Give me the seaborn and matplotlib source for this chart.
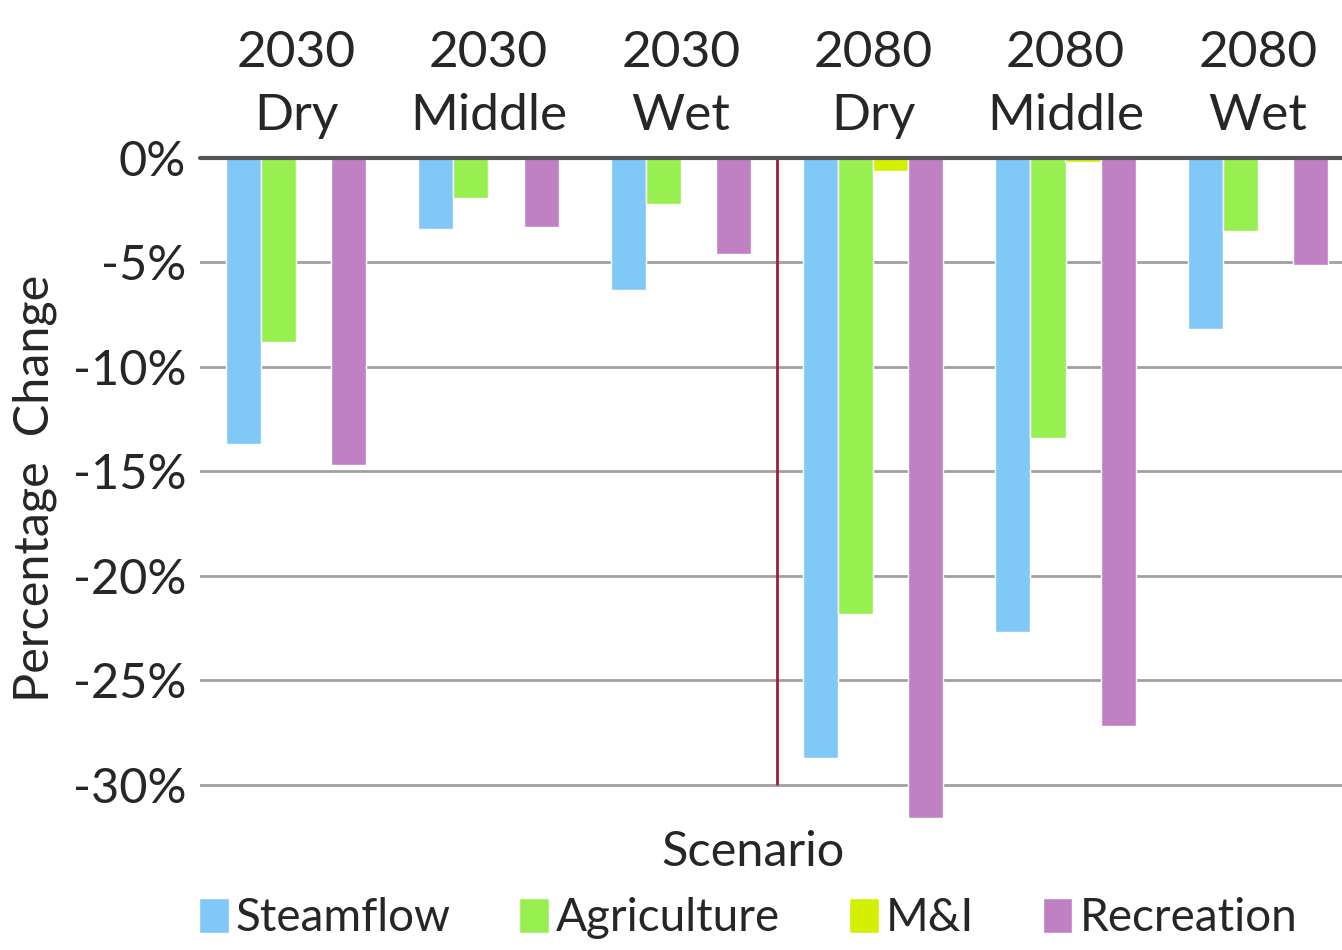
import pandas as pd
import matplotlib.pyplot as plt
import seaborn as sns

# values (percentage change)
scenarios = ['2030\nDry', '2030\nMiddle', '2030\nWet', '2080\nDry', '2080\nMiddle', '2080\nWet']
sectors = ['Steamflow', 'Agriculture', 'M&I', 'Recreation']
steamflow = [-13.7, -3.4, -6.3, -28.7, -22.7, -8.2]
agriculture = [-8.8, -1.9, -2.2, -21.8, -13.4, -3.5]
m_and_i = [0.0, 0.0, 0.0, -0.6, -0.2, 0.0]
recreation = [-14.7, -3.3, -4.6, -31.6, -27.2, -5.1]
yticks = [0, -5, -10, -15, -20, -25, -30]

colors = ['#80C8F8', '#98F050', '#D4F000', '#C080C4']

sns.set_theme(style='white')
plt.rcParams['font.family'] = ['Lato', 'DejaVu Sans']

df = pd.DataFrame({
    'Scenario': scenarios,
    'Steamflow': steamflow,
    'Agriculture': agriculture,
    'M&I': m_and_i,
    'Recreation': recreation,
}).melt(id_vars='Scenario', var_name='Sector', value_name='Change')

W, H = 1342, 950
fig = plt.figure(figsize=(W / 100, H / 100), dpi=100)
ax = fig.add_axes([200 / W, 1 - 822.6 / H, 1154 / W, 664.6 / H])

sns.barplot(data=df, x='Scenario', y='Change', hue='Sector', order=scenarios,
            hue_order=sectors, palette=colors, width=0.73, gap=0, saturation=1,
            ax=ax, legend=True)

ax.set_ylim(-31.8, 0)
ax.set_xlim(-0.5, 5.5)
ax.set_yticks(yticks)
ax.set_yticklabels([f'{v}%' for v in yticks])
ax.yaxis.grid(True, color='#A0A0A0', lw=2)
ax.set_axisbelow(True)
ax.axhline(0, color='#555555', lw=3, clip_on=False, zorder=5)
ax.vlines(2.5, -30, 0, color='#A01C3C', lw=2, zorder=4)

ax.xaxis.tick_top()
ax.tick_params(axis='x', length=0, pad=14, labelsize=37)
ax.tick_params(axis='y', length=0, pad=10, labelsize=35)
for lbl in ax.get_xticklabels():
    lbl.set_linespacing(1.45)
ax.set_xlabel('')
ax.set_ylabel('')
for s in ax.spines.values():
    s.set_visible(False)

fig.text(753 / W, 1 - 852 / H, 'Scenario', ha='center', va='center', fontsize=35)
fig.text(35 / W, 1 - 488 / H, 'Percentage  Change', ha='center', va='center',
         rotation=90, fontsize=35)

handles, labels = ax.get_legend_handles_labels()
ax.get_legend().remove()
fig.legend(handles, labels, loc='center', bbox_to_anchor=(748 / W, 1 - 918 / H),
           ncol=4, frameon=False, fontsize=33, handlelength=0.65, handleheight=0.8,
           handletextpad=0.15, columnspacing=1.5)

fig.savefig('out.png', dpi=100)
